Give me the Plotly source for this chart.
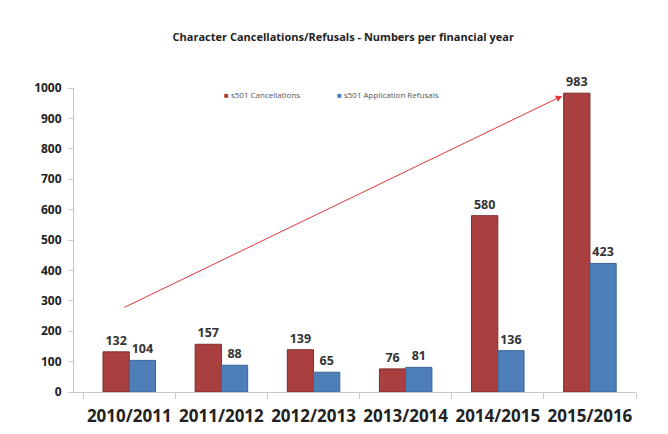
import plotly.graph_objects as go

# ---------------------------------------------------------------------------
# Data
# ---------------------------------------------------------------------------

years = ['2010/2011', '2011/2012', '2012/2013', '2013/2014', '2014/2015', '2015/2016']
cancellations = [132, 157, 139, 76, 580, 983]
refusals = [104, 88, 65, 81, 136, 423]
series_names = ['s501 Cancellations', 's501 Application Refusals']

y_ticks = [0, 100, 200, 300, 400, 500, 600, 700, 800, 900, 1000]

# trend arrow: (category index, value) for tail and head
arrow_tail = (-0.07, 276)
arrow_head = (4.70, 974)

_RED = '#a93f3e'
_BLUE = '#4f7fb9'
_LABEL = '#333333'
_BOLD = dict(family='Open Sans', weight='bold')

fig = go.Figure()

for name, values, color, edge in [
    (series_names[0], cancellations, _RED, '#7d2b2b'),
    (series_names[1], refusals, _BLUE, '#3a6497'),
]:
    fig.add_trace(go.Bar(
        x=years,
        y=values,
        name=name,
        marker=dict(color=color, line=dict(color=edge, width=1)),
        text=values,
        textposition='outside',
        textfont=dict(size=12.5, color=_LABEL, **_BOLD),
        cliponaxis=False,
        showlegend=False,
    ))

# small legend drawn as text, Excel-style
for name, color, xpos in [
    (series_names[0], _RED, 0.263),
    (series_names[1], _BLUE, 0.464),
]:
    fig.add_annotation(
        x=xpos, y=0.977, xref='paper', yref='paper',
        xanchor='left', yanchor='middle', showarrow=False,
        text=f'<span style="color:{color}">■</span> {name}',
        font=dict(size=8, color='#555555', family='Open Sans'),
    )

fig.add_annotation(
    x=arrow_head[0], y=arrow_head[1],
    ax=arrow_tail[0], ay=arrow_tail[1],
    xref='x', yref='y', axref='x', ayref='y',
    text='', showarrow=True,
    arrowhead=2, arrowsize=1.3, arrowwidth=1,
    arrowcolor='#e0363a',
)

fig.update_layout(
    width=660,
    height=426,
    paper_bgcolor='white',
    plot_bgcolor='white',
    barmode='group',
    bargap=0.43,
    bargroupgap=0,
    margin=dict(l=66, r=32, t=80, b=42, autoexpand=False),
    font=dict(family='Open Sans', color=_LABEL),
    title=dict(
        text='Character Cancellations/Refusals - Numbers per financial year',
        x=0.508, xanchor='center', y=0.932, yanchor='middle',
        font=dict(size=11, color='#222222', **_BOLD),
    ),
)

fig.update_xaxes(
    type='category',
    range=[-0.6, 5.5],
    showline=True, linecolor='#c8c8c8', linewidth=1,
    ticks='outside', tickson='boundaries', ticklen=6, tickcolor='#c8c8c8',
    ticklabelstandoff=9,
    tickangle=0,
    automargin=False,
    tickfont=dict(size=17, color='#222222', **_BOLD),
    showgrid=False,
)
fig.update_yaxes(
    range=[0, 1000],
    tickvals=y_ticks,
    showline=True, linecolor='#c8c8c8', linewidth=1,
    ticks='outside', ticklen=5, tickcolor='#c8c8c8',
    ticklabelstandoff=4,
    automargin=False,
    tickfont=dict(size=12, color='#222222', **_BOLD),
    showgrid=False, zeroline=False,
)

fig.write_html('out.html')
